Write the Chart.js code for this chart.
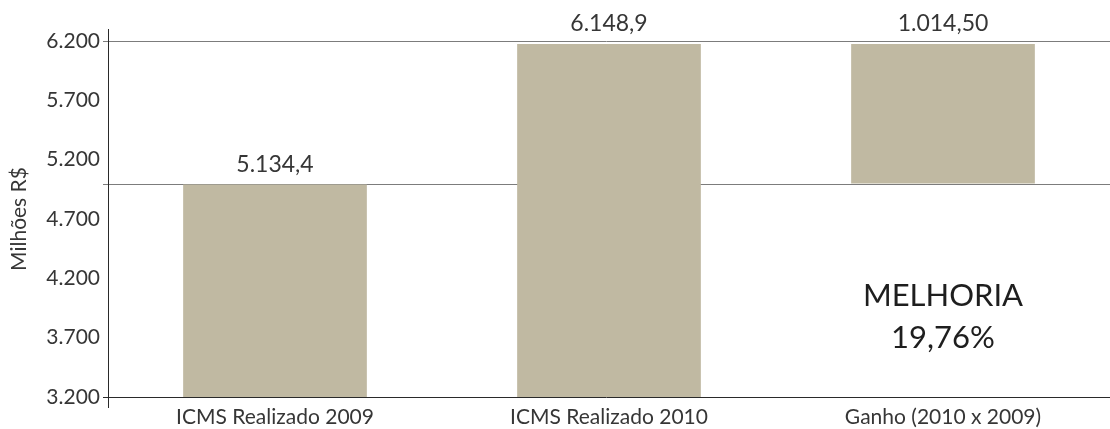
<!DOCTYPE html>
<html>
<head>
<meta charset="utf-8">
<script src="https://cdn.jsdelivr.net/npm/chart.js@4.4.1/dist/chart.umd.min.js"></script>
<style>
  html, body { margin: 0; padding: 0; background: #ffffff; }
  #wrap { width: 1110px; height: 429px; }
</style>
</head>
<body>
<div id="wrap"><canvas id="c" width="1110" height="429"></canvas></div>
<script>
// ---- data ----
const categories = ['ICMS Realizado 2009', 'ICMS Realizado 2010', 'Ganho (2010 x 2009)'];
const barBottoms = [3200, 3200, 5000];
const barTops = [4990, 6175, 6175];
const valueLabels = ['5.134,4', '6.148,9', '1.014,50'];
const yMin = 3200;
const yMax = 6200;
const yStep = 500;
const refLines = [6200, 4995];
const noteLines = ['MELHORIA', '19,76%'];
const axisTitle = 'Milhões R$';

function fmt(v) {
  return String(Math.round(v)).replace(/\B(?=(\d{3})+(?!\d))/g, '.');
}

const FONT = 'Lato, "Noto Sans", sans-serif';
const TEXT = '#363636';

const decorPlugin = {
  id: 'decor',
  beforeDatasetsDraw(chart) {
    const ctx = chart.ctx;
    const a = chart.chartArea;
    const y = chart.scales.y;
    ctx.save();
    ctx.lineWidth = 1;
    ctx.strokeStyle = '#7c7c7c';
    refLines.forEach(v => {
      const py = Math.round(y.getPixelForValue(v)) + 0.5;
      ctx.beginPath();
      ctx.moveTo(a.left - 5, py);
      ctx.lineTo(a.right, py);
      ctx.stroke();
    });
    ctx.strokeStyle = '#2a2a2a';
    const lx = Math.round(a.left) + 0.5;
    ctx.beginPath();
    ctx.moveTo(lx, a.top - 12);
    ctx.lineTo(lx, a.bottom + 11);
    ctx.stroke();
    const by = Math.round(a.bottom) + 0.5;
    ctx.beginPath();
    ctx.moveTo(a.left - 5, by);
    ctx.lineTo(a.right, by);
    ctx.stroke();
    ctx.restore();
  },
  afterDatasetsDraw(chart) {
    const ctx = chart.ctx;
    const a = chart.chartArea;
    const meta = chart.getDatasetMeta(0);
    ctx.save();
    ctx.fillStyle = TEXT;
    ctx.textAlign = 'center';
    ctx.textBaseline = 'middle';
    ctx.font = '23px ' + FONT;
    meta.data.forEach((bar, i) => {
      ctx.fillText(valueLabels[i], bar.x, bar.y - 20);
    });
    const last = meta.data[meta.data.length - 1];
    ctx.fillStyle = '#1e1e1e';
    ctx.font = '31px ' + FONT;
    const h = a.bottom - a.top;
    ctx.fillText(noteLines[0], last.x, a.top + h * 0.717);
    ctx.fillText(noteLines[1], last.x, a.top + h * 0.835);
    ctx.restore();
  }
};

new Chart(document.getElementById('c'), {
  type: 'bar',
  data: {
    labels: categories,
    datasets: [{
      data: categories.map((c, i) => [barBottoms[i], barTops[i]]),
      backgroundColor: '#c0b9a2',
      borderWidth: 0,
      categoryPercentage: 1.0,
      barPercentage: 0.55
    }]
  },
  options: {
    responsive: false,
    animation: false,
    layout: { padding: { top: 41, right: 0, bottom: 0, left: 0 } },
    plugins: { legend: { display: false }, tooltip: { enabled: false } },
    scales: {
      x: {
        grid: { display: false, drawTicks: false },
        border: { display: false },
        ticks: { color: TEXT, font: { family: FONT, size: 21 }, padding: 8, maxRotation: 0 },
        afterFit(s) { s.height = 32; }
      },
      y: {
        min: yMin,
        max: yMax,
        grid: { display: false, drawTicks: false },
        border: { display: false },
        ticks: {
          stepSize: yStep,
          color: TEXT,
          font: { family: FONT, size: 21 },
          padding: 8,
          callback: v => fmt(v)
        },
        title: {
          display: true,
          text: axisTitle,
          color: TEXT,
          font: { family: FONT, size: 21 },
          padding: { top: 7, bottom: 0 }
        },
        afterFit(s) { s.width = 108; }
      }
    }
  },
  plugins: [decorPlugin]
});
</script>
</body>
</html>
